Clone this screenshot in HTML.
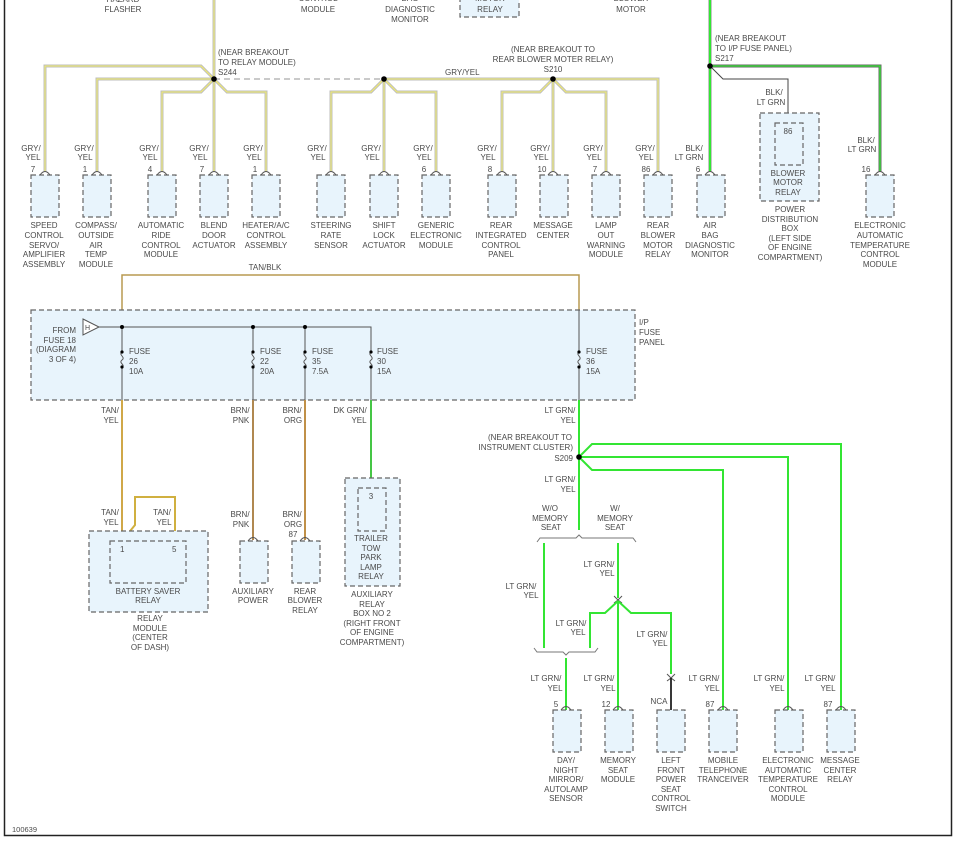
<!DOCTYPE html>
<html><head><meta charset="utf-8"><style>
html,body{margin:0;padding:0;background:#fff;}
svg{display:block;}
text{font-family:"Liberation Sans",sans-serif;font-size:8px;fill:#4a4a4a;}
.m{text-anchor:middle;}
.e{text-anchor:end;}
.box{fill:#e8f4fc;stroke:#666;stroke-width:1.2;stroke-dasharray:5,3;}
.gg{fill:none;stroke:#bdbdbd;stroke-width:3;}
.gy{fill:none;stroke:#f4ee6a;stroke-width:1;}
.gr{fill:none;stroke:#33e533;stroke-width:2;}
.dk{fill:none;stroke:#444;stroke-width:1;}
.arc{fill:none;stroke:#555;stroke-width:1;}
</style></head><body>
<svg width="965" height="845" viewBox="0 0 965 845" xmlns="http://www.w3.org/2000/svg">
<rect x="0" y="0" width="965" height="845" fill="#fff"/>
<!-- border -->
<path d="M4.5 0 V835.5 H951.5 V0" fill="none" stroke="#222" stroke-width="1.5"/>

<!-- top cut-off labels -->
<text class="m" x="123" y="2">HAZARD</text><text class="m" x="123" y="12">FLASHER</text>
<text class="m" x="318" y="1">CONTROL</text><text class="m" x="318" y="12">MODULE</text>
<text class="m" x="410" y="1">BAG</text><text class="m" x="410" y="12">DIAGNOSTIC</text><text class="m" x="410" y="22">MONITOR</text>
<rect class="box" x="460" y="-10" width="59" height="27"/>
<text class="m" x="490" y="1">MOTOR</text><text class="m" x="490" y="12">RELAY</text>
<text class="m" x="631" y="1">BLOWER</text><text class="m" x="631" y="12">MOTOR</text>

<!-- ===== top GRY/YEL wiring ===== -->
<g>
<path class="gg" d="M214 0 V79"/><path class="gy" d="M214 0 V79"/>
<path class="gg" d="M45 172 V66 H201 L214 79"/><path class="gy" d="M45 172 V66 H201 L214 79"/>
<path class="gg" d="M97 172 V79 H214"/><path class="gy" d="M97 172 V79 H214"/>
<path class="gg" d="M162 172 V92 H201 L214 79"/><path class="gy" d="M162 172 V92 H201 L214 79"/>
<path class="gg" d="M214 172 V79"/><path class="gy" d="M214 172 V79"/>
<path class="gg" d="M266 172 V92 H227 L214 79"/><path class="gy" d="M266 172 V92 H227 L214 79"/>
<path d="M214 79 H384" stroke="#aaa" stroke-width="1.3" stroke-dasharray="6,4" fill="none"/>
<path class="gg" d="M331 172 V92 H371 L384 79"/><path class="gy" d="M331 172 V92 H371 L384 79"/>
<path class="gg" d="M384 172 V79"/><path class="gy" d="M384 172 V79"/>
<path class="gg" d="M436 172 V92 H397 L384 79"/><path class="gy" d="M436 172 V92 H397 L384 79"/>
<path class="gg" d="M384 79 H658 V172"/><path class="gy" d="M384 79 H658 V172"/>
<path class="gg" d="M502 172 V92 H540 L553 79"/><path class="gy" d="M502 172 V92 H540 L553 79"/>
<path class="gg" d="M553 172 V79"/><path class="gy" d="M553 172 V79"/>
<path class="gg" d="M606 172 V92 H566 L553 79"/><path class="gy" d="M606 172 V92 H566 L553 79"/>
<circle cx="214" cy="79" r="2.8" fill="#000"/>
<circle cx="384" cy="79" r="2.8" fill="#000"/>
<circle cx="553" cy="79" r="2.8" fill="#000"/>
<text x="218" y="55">(NEAR BREAKOUT</text><text x="218" y="65">TO RELAY MODULE)</text><text x="218" y="75">S244</text>
<text x="445" y="75">GRY/YEL</text>
<text class="m" x="553" y="52">(NEAR BREAKOUT TO</text><text class="m" x="553" y="62">REAR BLOWER MOTER RELAY)</text><text class="m" x="553" y="72">S210</text>
</g>

<!-- S217 -->
<path d="M710 0 V172" stroke="#888" stroke-width="3" fill="none"/><path class="gr" d="M710 0 V172" stroke-width="1.5"/>
<path d="M710 66 H880 V172" stroke="#666" stroke-width="3" fill="none"/><path d="M710 66 H880 V172" stroke="#33e533" stroke-width="1.3" fill="none"/>
<path class="dk" d="M710 66 L723 79 H788 V123" stroke-width="1.5"/>
<circle cx="710" cy="66" r="2.8" fill="#000"/>
<text x="715" y="41">(NEAR BREAKOUT</text><text x="715" y="51">TO I/P FUSE PANEL)</text><text x="715" y="61">S217</text>
<text class="m" x="774" y="95">BLK/</text><text class="m" x="771" y="105">LT GRN</text>
<rect class="box" x="760" y="113" width="59" height="88"/>
<rect class="box" x="775" y="123" width="28" height="42"/>
<text class="m" x="788" y="134">86</text>
<text class="m" x="788" y="176">BLOWER</text><text class="m" x="788" y="185">MOTOR</text><text class="m" x="788" y="195">RELAY</text>
<text class="m" x="790" y="212">POWER</text><text class="m" x="790" y="222">DISTRIBUTION</text><text class="m" x="790" y="231">BOX</text><text class="m" x="790" y="241">(LEFT SIDE</text><text class="m" x="790" y="250">OF ENGINE</text><text class="m" x="790" y="260">COMPARTMENT)</text>
<text class="m" x="866" y="143">BLK/</text><text class="m" x="862" y="152">LT GRN</text>

<!-- row 1 components -->
<g>
<!-- each: box, arc, wire label, pin, name -->
<rect class="box" x="31" y="175" width="28" height="42"/><path class="arc" d="M40 175 Q45 168 50 175"/>
<text class="m" x="31" y="151">GRY/</text><text class="m" x="33" y="160">YEL</text><text class="m" x="33" y="172">7</text>
<text class="m" x="44" y="228">SPEED</text><text class="m" x="44" y="238">CONTROL</text><text class="m" x="44" y="248">SERVO/</text><text class="m" x="44" y="257">AMPLIFIER</text><text class="m" x="44" y="267">ASSEMBLY</text>

<rect class="box" x="83" y="175" width="28" height="42"/><path class="arc" d="M92 175 Q97 168 102 175"/>
<text class="m" x="84" y="151">GRY/</text><text class="m" x="85" y="160">YEL</text><text class="m" x="85" y="172">1</text>
<text class="m" x="96" y="228">COMPASS/</text><text class="m" x="96" y="238">OUTSIDE</text><text class="m" x="96" y="248">AIR</text><text class="m" x="96" y="257">TEMP</text><text class="m" x="96" y="267">MODULE</text>

<rect class="box" x="148" y="175" width="28" height="42"/><path class="arc" d="M157 175 Q162 168 167 175"/>
<text class="m" x="149" y="151">GRY/</text><text class="m" x="150" y="160">YEL</text><text class="m" x="150" y="172">4</text>
<text class="m" x="161" y="228">AUTOMATIC</text><text class="m" x="161" y="238">RIDE</text><text class="m" x="161" y="248">CONTROL</text><text class="m" x="161" y="257">MODULE</text>

<rect class="box" x="200" y="175" width="28" height="42"/><path class="arc" d="M209 175 Q214 168 219 175"/>
<text class="m" x="199" y="151">GRY/</text><text class="m" x="200" y="160">YEL</text><text class="m" x="202" y="172">7</text>
<text class="m" x="214" y="228">BLEND</text><text class="m" x="214" y="238">DOOR</text><text class="m" x="214" y="248">ACTUATOR</text>

<rect class="box" x="252" y="175" width="28" height="42"/><path class="arc" d="M261 175 Q266 168 271 175"/>
<text class="m" x="253" y="151">GRY/</text><text class="m" x="254" y="160">YEL</text><text class="m" x="255" y="172">1</text>
<text class="m" x="266" y="228">HEATER/A/C</text><text class="m" x="266" y="238">CONTROL</text><text class="m" x="266" y="248">ASSEMBLY</text>

<rect class="box" x="317" y="175" width="28" height="42"/><path class="arc" d="M326 175 Q331 168 336 175"/>
<text class="m" x="317" y="151">GRY/</text><text class="m" x="318" y="160">YEL</text>
<text class="m" x="331" y="228">STEERING</text><text class="m" x="331" y="238">RATE</text><text class="m" x="331" y="248">SENSOR</text>

<rect class="box" x="370" y="175" width="28" height="42"/><path class="arc" d="M379 175 Q384 168 389 175"/>
<text class="m" x="371" y="151">GRY/</text><text class="m" x="372" y="160">YEL</text>
<text class="m" x="384" y="228">SHIFT</text><text class="m" x="384" y="238">LOCK</text><text class="m" x="384" y="248">ACTUATOR</text>

<rect class="box" x="422" y="175" width="28" height="42"/><path class="arc" d="M431 175 Q436 168 441 175"/>
<text class="m" x="423" y="151">GRY/</text><text class="m" x="424" y="160">YEL</text><text class="m" x="424" y="172">6</text>
<text class="m" x="436" y="228">GENERIC</text><text class="m" x="436" y="238">ELECTRONIC</text><text class="m" x="436" y="248">MODULE</text>

<rect class="box" x="488" y="175" width="28" height="42"/><path class="arc" d="M497 175 Q502 168 507 175"/>
<text class="m" x="487" y="151">GRY/</text><text class="m" x="488" y="160">YEL</text><text class="m" x="490" y="172">8</text>
<text class="m" x="501" y="228">REAR</text><text class="m" x="501" y="238">INTEGRATED</text><text class="m" x="501" y="248">CONTROL</text><text class="m" x="501" y="257">PANEL</text>

<rect class="box" x="540" y="175" width="28" height="42"/><path class="arc" d="M548 175 Q553 168 558 175"/>
<text class="m" x="540" y="151">GRY/</text><text class="m" x="541" y="160">YEL</text><text class="m" x="542" y="172">10</text>
<text class="m" x="553" y="228">MESSAGE</text><text class="m" x="553" y="238">CENTER</text>

<rect class="box" x="592" y="175" width="28" height="42"/><path class="arc" d="M601 175 Q606 168 611 175"/>
<text class="m" x="593" y="151">GRY/</text><text class="m" x="594" y="160">YEL</text><text class="m" x="595" y="172">7</text>
<text class="m" x="606" y="228">LAMP</text><text class="m" x="606" y="238">OUT</text><text class="m" x="606" y="248">WARNING</text><text class="m" x="606" y="257">MODULE</text>

<rect class="box" x="644" y="175" width="28" height="42"/><path class="arc" d="M653 175 Q658 168 663 175"/>
<text class="m" x="645" y="151">GRY/</text><text class="m" x="646" y="160">YEL</text><text class="m" x="646" y="172">86</text>
<text class="m" x="658" y="228">REAR</text><text class="m" x="658" y="238">BLOWER</text><text class="m" x="658" y="248">MOTOR</text><text class="m" x="658" y="257">RELAY</text>

<rect class="box" x="697" y="175" width="28" height="42"/><path class="arc" d="M705 175 Q710 168 715 175"/>
<text class="m" x="694" y="151">BLK/</text><text class="m" x="689" y="160">LT GRN</text><text class="m" x="698" y="172">6</text>
<text class="m" x="710" y="228">AIR</text><text class="m" x="710" y="238">BAG</text><text class="m" x="710" y="248">DIAGNOSTIC</text><text class="m" x="710" y="257">MONITOR</text>

<rect class="box" x="866" y="175" width="28" height="42"/><path class="arc" d="M875 175 Q880 168 885 175"/>
<text class="m" x="866" y="172">16</text>
<text class="m" x="880" y="228">ELECTRONIC</text><text class="m" x="880" y="238">AUTOMATIC</text><text class="m" x="880" y="248">TEMPERATURE</text><text class="m" x="880" y="257">CONTROL</text><text class="m" x="880" y="267">MODULE</text>
</g>

<!-- ===== fuse panel ===== -->
<path d="M122 327 V275 H579 V310" stroke="#b89a50" stroke-width="1.5" fill="none"/>
<text class="m" x="265" y="270">TAN/BLK</text>
<rect class="box" x="31" y="310" width="604" height="90"/>
<text x="639" y="325">I/P</text><text x="639" y="335">FUSE</text><text x="639" y="345">PANEL</text>
<text class="e" x="76" y="333">FROM</text><text class="e" x="76" y="343">FUSE 18</text><text class="e" x="76" y="352">(DIAGRAM</text><text class="e" x="76" y="362">3 OF 4)</text>
<path d="M83 319 L99 327 L83 335 Z" fill="#fff" stroke="#555" stroke-width="1"/>
<text x="85" y="330" style="font-size:7px">H</text>
<path d="M99 327 H371 V352" stroke="#555" stroke-width="1" fill="none"/>
<path d="M579 310 V352" stroke="#555" stroke-width="1" fill="none"/>
<path d="M122 327 V352 M253 327 V352 M305 327 V352" stroke="#555" stroke-width="1" fill="none"/>
<g fill="#000"><circle cx="122" cy="327" r="2"/><circle cx="253" cy="327" r="2"/><circle cx="305" cy="327" r="2"/></g>
<!-- fuses -->
<g stroke="#555" stroke-width="1" fill="none">
<path d="M122 352 c-4 3 4 5 0 8 c-4 3 4 5 0 7 V400"/>
<path d="M253 352 c-4 3 4 5 0 8 c-4 3 4 5 0 7 V400"/>
<path d="M305 352 c-4 3 4 5 0 8 c-4 3 4 5 0 7 V400"/>
<path d="M371 352 c-4 3 4 5 0 8 c-4 3 4 5 0 7 V400"/>
<path d="M579 352 c-4 3 4 5 0 8 c-4 3 4 5 0 7 V400"/>
</g>
<g fill="#000">
<circle cx="122" cy="352" r="1.6"/><circle cx="122" cy="367" r="1.6"/>
<circle cx="253" cy="352" r="1.6"/><circle cx="253" cy="367" r="1.6"/>
<circle cx="305" cy="352" r="1.6"/><circle cx="305" cy="367" r="1.6"/>
<circle cx="371" cy="352" r="1.6"/><circle cx="371" cy="367" r="1.6"/>
<circle cx="579" cy="352" r="1.6"/><circle cx="579" cy="367" r="1.6"/>
</g>
<text x="129" y="354">FUSE</text><text x="129" y="364">26</text><text x="129" y="374">10A</text>
<text x="260" y="354">FUSE</text><text x="260" y="364">22</text><text x="260" y="374">20A</text>
<text x="312" y="354">FUSE</text><text x="312" y="364">35</text><text x="312" y="374">7.5A</text>
<text x="377" y="354">FUSE</text><text x="377" y="364">30</text><text x="377" y="374">15A</text>
<text x="586" y="354">FUSE</text><text x="586" y="364">36</text><text x="586" y="374">15A</text>

<!-- wires below fuse panel -->
<path d="M122 400 V541" stroke="#d0a848" stroke-width="2" fill="none"/>
<path d="M122 541 L135 525 V497 H175 V541" stroke="#d0b040" stroke-width="2" fill="none"/>
<path d="M253 400 V540" stroke="#b08850" stroke-width="2" fill="none"/>
<path d="M305 400 V540" stroke="#c09048" stroke-width="2" fill="none"/>
<path d="M371 400 V488" stroke="#30c030" stroke-width="1.8" fill="none"/>
<path d="M579 400 V530" class="gr"/>
<text class="m" x="110" y="413">TAN/</text><text class="m" x="111" y="423">YEL</text>
<text class="m" x="240" y="413">BRN/</text><text class="m" x="241" y="423">PNK</text>
<text class="m" x="292" y="413">BRN/</text><text class="m" x="293" y="423">ORG</text>
<text class="m" x="350" y="413">DK GRN/</text><text class="m" x="359" y="423">YEL</text>
<text class="m" x="560" y="413">LT GRN/</text><text class="m" x="568" y="423">YEL</text>

<!-- battery saver -->
<text class="m" x="110" y="515">TAN/</text><text class="m" x="111" y="525">YEL</text>
<text class="m" x="162" y="515">TAN/</text><text class="m" x="164" y="525">YEL</text>
<rect class="box" x="89" y="531" width="119" height="81"/>
<rect class="box" x="110" y="541" width="76" height="42"/>
<text x="120" y="552">1</text><text x="172" y="552">5</text>
<text class="m" x="148" y="594">BATTERY SAVER</text><text class="m" x="148" y="603">RELAY</text>
<text class="m" x="150" y="621">RELAY</text><text class="m" x="150" y="631">MODULE</text><text class="m" x="150" y="640">(CENTER</text><text class="m" x="150" y="650">OF DASH)</text>

<!-- aux power -->
<text class="m" x="240" y="517">BRN/</text><text class="m" x="241" y="527">PNK</text>
<rect class="box" x="240" y="541" width="28" height="42"/><path class="arc" d="M248 541 Q253 534 258 541"/>
<text class="m" x="253" y="594">AUXILIARY</text><text class="m" x="253" y="603">POWER</text>
<!-- rear blower relay -->
<text class="m" x="292" y="517">BRN/</text><text class="m" x="293" y="527">ORG</text><text class="m" x="293" y="537">87</text>
<rect class="box" x="292" y="541" width="28" height="42"/><path class="arc" d="M300 541 Q305 534 310 541"/>
<text class="m" x="305" y="594">REAR</text><text class="m" x="305" y="603">BLOWER</text><text class="m" x="305" y="613">RELAY</text>
<!-- trailer -->
<rect class="box" x="345" y="478" width="55" height="108"/>
<rect class="box" x="358" y="488" width="28" height="43"/>
<text class="m" x="371" y="499">3</text>
<text class="m" x="371" y="541">TRAILER</text><text class="m" x="371" y="551">TOW</text><text class="m" x="371" y="560">PARK</text><text class="m" x="371" y="570">LAMP</text><text class="m" x="371" y="579">RELAY</text>
<text class="m" x="372" y="597">AUXILIARY</text><text class="m" x="372" y="607">RELAY</text><text class="m" x="372" y="616">BOX NO 2</text><text class="m" x="372" y="626">(RIGHT FRONT</text><text class="m" x="372" y="635">OF ENGINE</text><text class="m" x="372" y="645">COMPARTMENT)</text>

<!-- S209 -->
<path class="gr" d="M579 457 L592 444 H841 V710"/>
<path class="gr" d="M579 457 H788 V710"/>
<path class="gr" d="M579 457 L592 470 H723 V710"/>
<circle cx="579" cy="457" r="2.8" fill="#000"/>
<text class="e" x="572" y="440">(NEAR BREAKOUT TO</text><text class="e" x="573" y="450">INSTRUMENT CLUSTER)</text><text class="e" x="573" y="461">S209</text>
<text class="m" x="560" y="482">LT GRN/</text><text class="m" x="568" y="492">YEL</text>
<text class="m" x="550" y="511">W/O</text><text class="m" x="550" y="521">MEMORY</text><text class="m" x="551" y="530">SEAT</text>
<text class="m" x="615" y="511">W/</text><text class="m" x="615" y="521">MEMORY</text><text class="m" x="615" y="530">SEAT</text>
<path d="M537 542 L540 538 H576 L579 535 L582 538 H633 L636 542" stroke="#777" stroke-width="1" fill="none"/>
<path class="gr" d="M544 543 V648"/>
<path class="gr" d="M618 543 V598"/>
<path d="M614 596 L618 600 L622 596 M614 603 L618 600 L622 603" stroke="#555" stroke-width="1" fill="none"/>
<path class="gr" d="M618 601 L605 613 H590 V648"/>
<path class="gr" d="M618 601 V710"/>
<path class="gr" d="M618 601 L631 613 H671 V674"/>
<path d="M667 674 L671 678 L675 674 M667 681 L671 678 L675 681" stroke="#555" stroke-width="1" fill="none"/>
<path d="M671 678 V710" stroke="#222" stroke-width="1.8" fill="none"/>
<path d="M534 648 L537 652 H563 L566 655 L569 652 H595 L598 648" stroke="#777" stroke-width="1" fill="none"/>
<path class="gr" d="M566 658 V710"/>
<text class="m" x="521" y="589">LT GRN/</text><text class="m" x="531" y="598">YEL</text>
<text class="m" x="599" y="567">LT GRN/</text><text class="m" x="607" y="576">YEL</text>
<text class="m" x="571" y="626">LT GRN/</text><text class="m" x="578" y="635">YEL</text>
<text class="m" x="652" y="637">LT GRN/</text><text class="m" x="660" y="646">YEL</text>
<text class="m" x="546" y="681">LT GRN/</text><text class="m" x="555" y="691">YEL</text>
<text class="m" x="599" y="681">LT GRN/</text><text class="m" x="608" y="691">YEL</text>
<text class="m" x="704" y="681">LT GRN/</text><text class="m" x="712" y="691">YEL</text>
<text class="m" x="769" y="681">LT GRN/</text><text class="m" x="777" y="691">YEL</text>
<text class="m" x="820" y="681">LT GRN/</text><text class="m" x="828" y="691">YEL</text>

<!-- bottom row boxes -->
<rect class="box" x="553" y="710" width="28" height="42"/><path class="arc" d="M561 710 Q566 703 571 710"/>
<text class="m" x="556" y="707">5</text>
<text class="m" x="566" y="763">DAY/</text><text class="m" x="566" y="773">NIGHT</text><text class="m" x="566" y="782">MIRROR/</text><text class="m" x="566" y="792">AUTOLAMP</text><text class="m" x="566" y="801">SENSOR</text>
<rect class="box" x="605" y="710" width="28" height="42"/><path class="arc" d="M613 710 Q618 703 623 710"/>
<text class="m" x="606" y="707">12</text>
<text class="m" x="618" y="763">MEMORY</text><text class="m" x="618" y="773">SEAT</text><text class="m" x="618" y="782">MODULE</text>
<rect class="box" x="657" y="710" width="28" height="42"/>
<text class="m" x="659" y="704">NCA</text>
<text class="m" x="671" y="763">LEFT</text><text class="m" x="671" y="773">FRONT</text><text class="m" x="671" y="782">POWER</text><text class="m" x="671" y="792">SEAT</text><text class="m" x="671" y="801">CONTROL</text><text class="m" x="671" y="811">SWITCH</text>
<rect class="box" x="709" y="710" width="28" height="42"/><path class="arc" d="M718 710 Q723 703 728 710"/>
<text class="m" x="710" y="707">87</text>
<text class="m" x="723" y="763">MOBILE</text><text class="m" x="723" y="773">TELEPHONE</text><text class="m" x="723" y="782">TRANCEIVER</text>
<rect class="box" x="775" y="710" width="28" height="42"/><path class="arc" d="M783 710 Q788 703 793 710"/>
<text class="m" x="788" y="763">ELECTRONIC</text><text class="m" x="788" y="773">AUTOMATIC</text><text class="m" x="788" y="782">TEMPERATURE</text><text class="m" x="788" y="792">CONTROL</text><text class="m" x="788" y="801">MODULE</text>
<rect class="box" x="827" y="710" width="28" height="42"/><path class="arc" d="M836 710 Q841 703 846 710"/>
<text class="m" x="828" y="707">87</text>
<text class="m" x="840" y="763">MESSAGE</text><text class="m" x="840" y="773">CENTER</text><text class="m" x="840" y="782">RELAY</text>

<text x="12" y="832" style="font-size:7.5px">100639</text>
</svg>
</body></html>
